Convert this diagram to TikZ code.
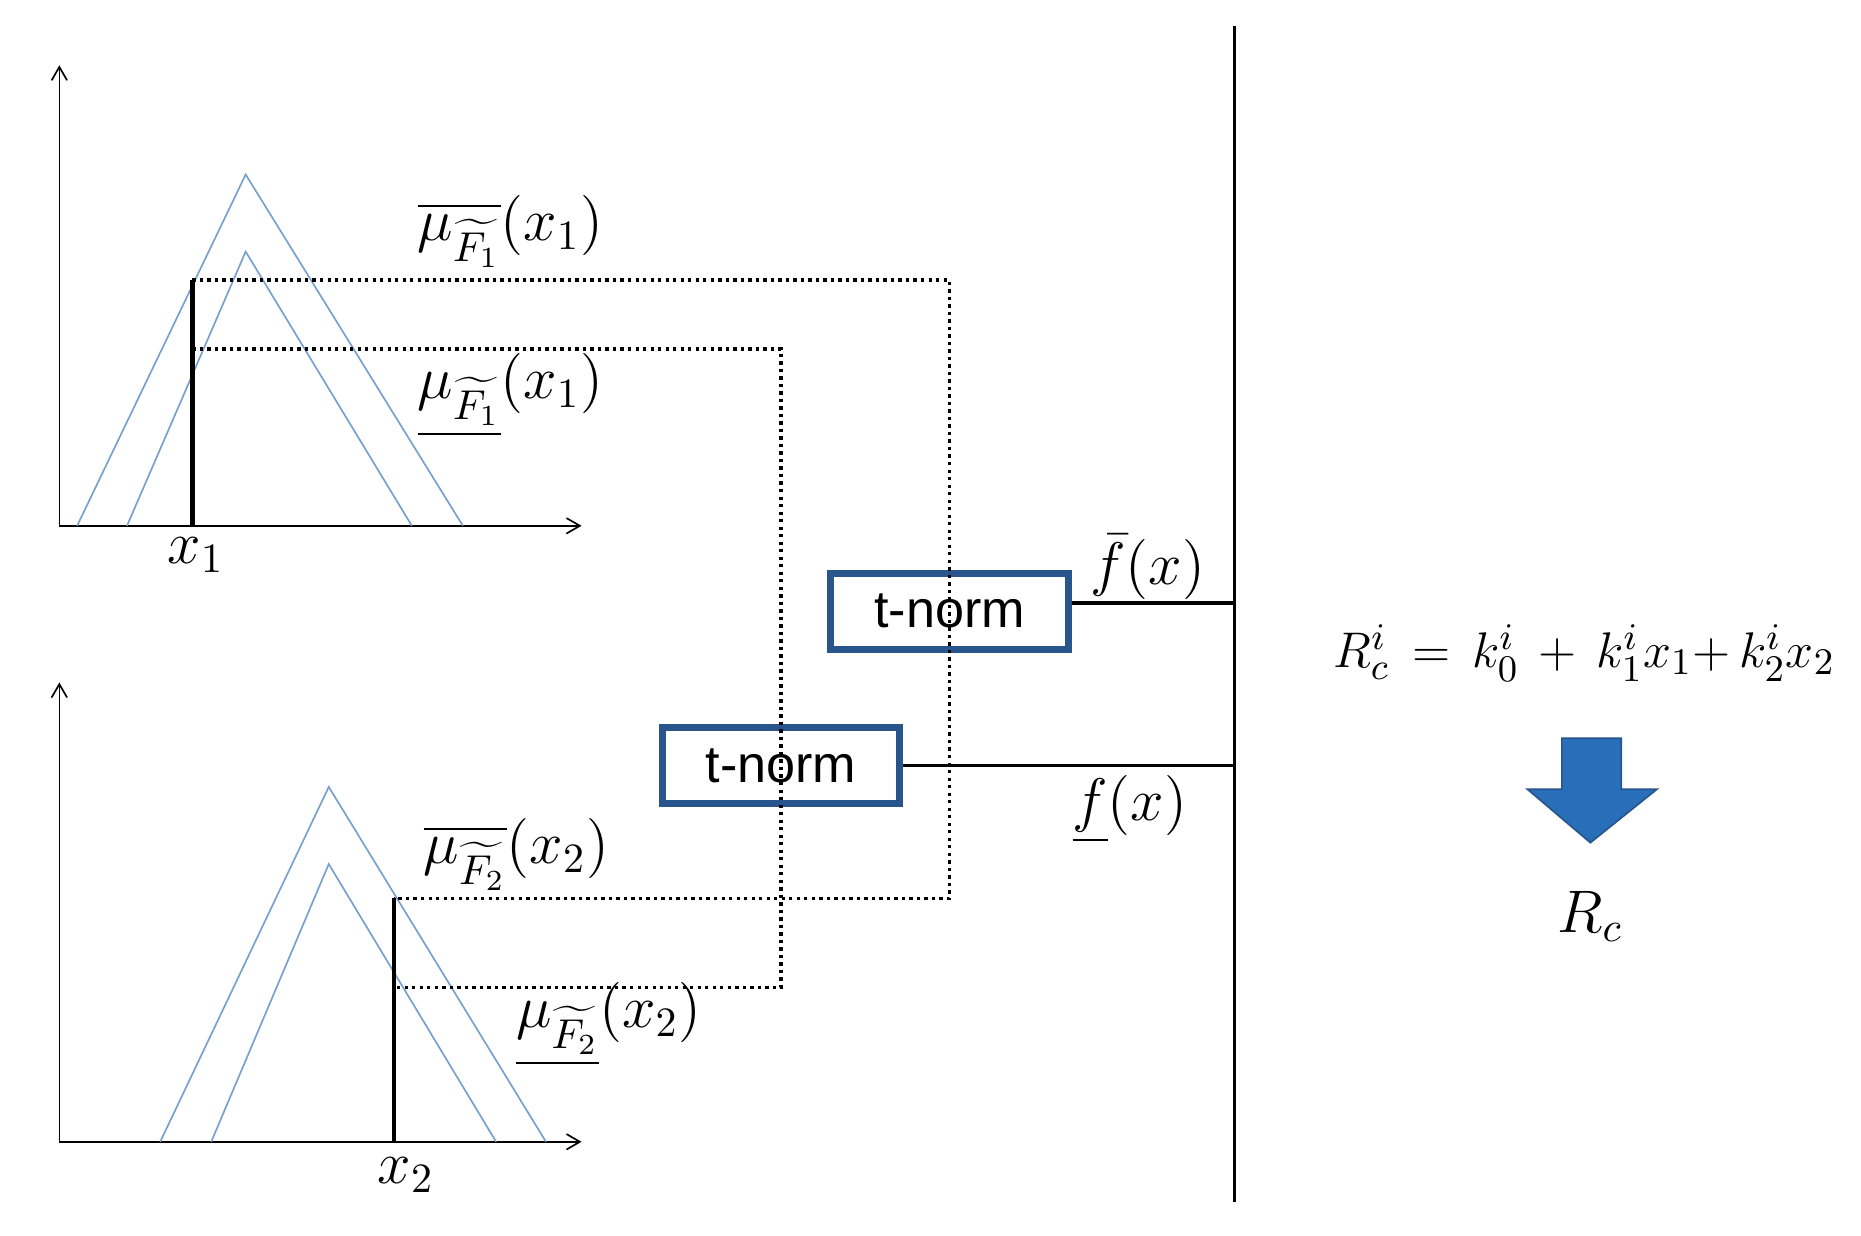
\documentclass[tikz,border=0pt]{standalone}
\usepackage{amsmath}
\usepackage{fontspec}
\setsansfont{Liberation Sans}
\usetikzlibrary{arrows}
\definecolor{mfblue}{RGB}{120,160,205}
\definecolor{boxblue}{RGB}{40,85,140}
\definecolor{arrblue}{RGB}{40,110,185}
\tikzset{
    axis/.style={->,>=angle 60,thin},
    mf/.style={draw=mfblue,thin},
    cut/.style={draw=black,line width=1.1pt},
    link/.style={densely dotted,thick},
    normbox/.style={draw=boxblue,line width=1.6pt,minimum width=2cm,minimum height=0.64cm,inner sep=0pt,font=\sffamily\fontsize{12.5}{12.5}\selectfont},
    lbl/.style={font=\fontsize{14}{14}\selectfont}
}
\begin{document}
\begin{tikzpicture}[x=0.01cm,y=-0.01cm]
				\useasboundingbox (0,0) rectangle (1568,1041);
				
				% upper membership functions
				\coordinate (O1) at (50,443);
				\draw[axis] (O1) -- (50,55);
				\draw[axis] (O1) -- (490,443);
				\draw[mf] (65,443) -- (207,147) -- (390,443);
				\draw[mf] (107,443) -- (207,212) -- (347,443);
				\coordinate (U1) at (162,236);
				\coordinate (L1) at (162,294);
				\draw[cut] (162,443) -- (U1);
				\node[lbl] (X1) at (165,468) {$x_1$};
				\node[lbl] (MU1) at (430,195) {$\overline{\mu_{\widetilde{F_1}}}(x_1)$};
				\node[lbl] (ML1) at (430,333) {$\underline{\mu_{\widetilde{F_1}}}(x_1)$};
				
				% lower membership functions
				\coordinate (O2) at (50,962);
				\draw[axis] (O2) -- (50,575);
				\draw[axis] (O2) -- (490,962);
				\draw[mf] (135,962) -- (277,663) -- (460,962);
				\draw[mf] (178,962) -- (277,728) -- (418,962);
				\coordinate (U2) at (332,757);
				\coordinate (L2) at (332,832);
				\draw[cut] (332,962) -- (U2);
				\node[lbl] (X2) at (342,990) {$x_2$};
				\node[lbl] (MU2) at (435,720) {$\overline{\mu_{\widetilde{F_2}}}(x_2)$};
				\node[lbl] (ML2) at (513,863) {$\underline{\mu_{\widetilde{F_2}}}(x_2)$};
				
				% t-norm blocks
				\node[normbox] (TU) at (800,515) {t-norm};
				\node[normbox] (TL) at (658,645) {t-norm};
				\draw[link] (U1) -- (800,236) -- (800,757) -- (U2);
				\draw[link] (L1) -- (658,294) -- (658,832) -- (L2);
				
				\coordinate (BT) at (1040,22);
				\coordinate (BB) at (1040,1013);
				\draw[thick] (BT) -- (BB);
				\draw[thick] ([yshift=0.07cm]TU.east) -- ([yshift=0.07cm]TU.east -| BT);
				\draw[thick] (TL.east) -- (TL.east -| BT);
				\node[lbl] (FU) at (967,478) {$\bar{f}(x)$};
				\node[lbl] (FL) at (952,682) {$\underline{f}(x)$};
				
				% consequent
				\node[lbl,font=\fontsize{13}{13}\selectfont] (RC) at (1335,550) {$R_c^i\, =\, k_0^i\, +\, k_1^i x_1{+}\, k_2^i x_2$};
				\draw[draw=boxblue,fill=arrblue] (1316,622) -- (1366,622) -- (1366,665) -- (1396,665)
				    -- (1340,710) -- (1287,665) -- (1316,665) -- cycle;
				\node[lbl] (R) at (1340,772) {$R_c$};
\end{tikzpicture}
\end{document}
